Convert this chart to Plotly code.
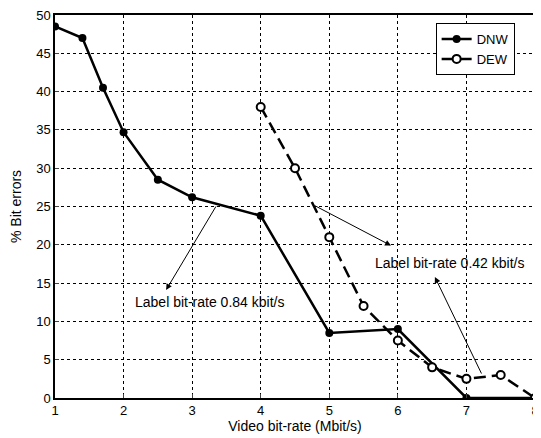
import plotly.graph_objects as go

dnw_x = [1, 1.4, 1.7, 2, 2.5, 3, 4, 5, 6, 7, 8]
dnw_y = [48.5, 47, 40.5, 34.7, 28.5, 26.2, 23.8, 8.5, 9, 0, 0]
dew_x = [4, 4.5, 5, 5.5, 6, 6.5, 7, 7.5, 8]
dew_y = [38, 30, 21, 12, 7.5, 4, 2.5, 3, 0]
x_ticks = [1, 2, 3, 4, 5, 6, 7, 8]
y_ticks = [0, 5, 10, 15, 20, 25, 30, 35, 40, 45, 50]

fig = go.Figure()
fig.add_trace(go.Scatter(x=dnw_x, y=dnw_y, name="DNW", mode="lines+markers",
                         line=dict(color="black", width=2.5),
                         marker=dict(symbol="circle", size=8, color="black")))
fig.add_trace(go.Scatter(x=dew_x, y=dew_y, name="DEW", mode="lines+markers",
                         line=dict(color="black", width=2.5, dash="12px,6px"),
                         marker=dict(symbol="circle", size=8, color="white",
                                     line=dict(color="black", width=2))))

font = dict(family="Liberation Sans, Arial, sans-serif", size=13, color="black")
afont = dict(family="Liberation Sans, Arial, sans-serif", size=14, color="black")

# 0.84 annotation
fig.add_annotation(x=2.62, y=14.1, ax=3.36, ay=25.2, xref="x", yref="y",
                   axref="x", ayref="y", showarrow=True, arrowhead=2,
                   arrowsize=1.2, arrowwidth=1, arrowcolor="black", text="")
fig.add_annotation(x=3.26, y=12.5, xref="x", yref="y", showarrow=False,
                   text="Label bit-rate 0.84 kbit/s", font=afont)
# 0.42 annotation
fig.add_annotation(x=5.9, y=19.9, ax=4.77, ay=25.2, xref="x", yref="y",
                   axref="x", ayref="y", showarrow=True, arrowhead=2,
                   arrowsize=1.2, arrowwidth=1, arrowcolor="black", text="")
fig.add_annotation(x=6.54, y=15.8, ax=7.23, ay=3.0, xref="x", yref="y",
                   axref="x", ayref="y", showarrow=True, arrowhead=2,
                   arrowsize=1.2, arrowwidth=1, arrowcolor="black", text="")
fig.add_annotation(x=6.75, y=17.6, xref="x", yref="y", showarrow=False,
                   text="Label bit-rate 0.42 kbit/s", font=afont)

fig.update_layout(
    width=533, height=430,
    margin=dict(l=47, r=6, t=7, b=40),
    paper_bgcolor="white", plot_bgcolor="white",
    font=font,
    showlegend=True,
    legend=dict(x=0.793, y=0.979, xanchor="left", yanchor="top",
                bordercolor="black", borderwidth=1, bgcolor="white",
                font=dict(size=13), tracegroupgap=0, itemwidth=30),
    xaxis=dict(range=[1, 8], tickvals=x_ticks, showgrid=True,
               gridcolor="black", griddash="3px,3px", gridwidth=1,
               showline=True, linecolor="black", linewidth=1.5, mirror=True,
               ticks="inside", ticklen=4, zeroline=False, automargin=False,
               ticklabeloverflow="allow",
               title=dict(text="Video bit-rate (Mbit/s)", standoff=2,
                          font=dict(size=14))),
    yaxis=dict(range=[0, 50], tickvals=y_ticks, showgrid=True,
               gridcolor="black", griddash="3px,3px", gridwidth=1,
               showline=True, linecolor="black", linewidth=1.5, mirror=True,
               ticks="inside", ticklen=4, zeroline=False, automargin=False,
               ticklabeloverflow="allow",
               title=dict(text="% Bit errors", standoff=14,
                          font=dict(size=14))),
)

fig.write_html("out.html")
